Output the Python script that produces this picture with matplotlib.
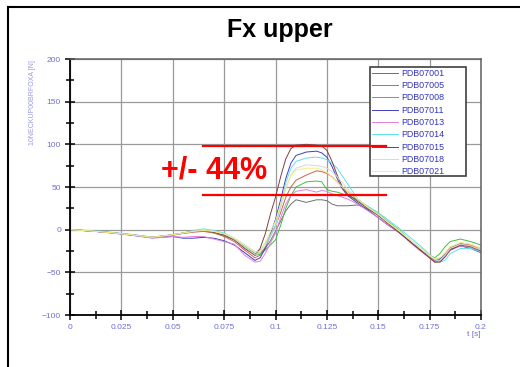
import matplotlib.pyplot as plt
from matplotlib.lines import Line2D
from matplotlib.patches import Rectangle
from matplotlib.ticker import MultipleLocator

plt.rcParams['font.family'] = ['Liberation Sans', 'DejaVu Sans']

# time axis [s]
t = [0, .01, .02, .03, .04, .05, .055, .06, .065, .07,
     .075, .08, .085, .09, .0925, .095, .0975, .1, .1025, .105,
     .1075, .11, .115, .12, .1225, .125, .1275, .13, .1325, .135,
     .14, .145, .15, .155, .16, .165, .17, .175, .1775, .18,
     .1825, .185, .19, .195, .2]

# force traces [N]
pdb07001 = [0, -1.5, -3.5, -6, -9, -6, -4, -2, -1, -3,
            -7, -12, -20, -28, -27, -22, -13, -2, 10, 22,
            30, 35, 32, 35, 35, 34, 30, 28, 28, 28,
            29, 24, 17, 7, -2, -13, -23, -31, -35, -34,
            -28, -21, -17, -19, -24]
pdb07005 = [0, -1.5, -3.5, -6, -9.5, -6.5, -4.5, -3, -2, -4,
            -8, -14, -24, -33, -30, -20, -8, 4, 20, 38,
            50, 58, 64, 69, 68, 66, 62, 56, 50, 45,
            35, 26, 17, 7, -3, -13, -23, -33, -38, -37,
            -31, -22, -16, -18, -22]
pdb07008 = [0, -1.5, -3.5, -6, -9, -6, -4, -2, -1, -3,
            -6, -11, -20, -30, -29, -24, -18, -12, 5, 25,
            40, 50, 56, 57, 56, 47, 45, 44, 42, 40,
            35, 27, 19, 9, 0, -11, -21, -30, -33, -28,
            -20, -14, -11, -14, -18]
pdb07011 = [0, -1.5, -3.5, -6.5, -9.5, -8, -10, -10, -9, -10,
            -13, -18, -27, -36, -33, -22, -5, 12, 35, 60,
            78, 87, 91, 92, 90, 85, 74, 60, 48, 40,
            31, 23, 14, 5, -3, -13, -23, -32, -36, -35,
            -30, -23, -19, -22, -27]
pdb07013 = [0, -1.5, -4, -6.5, -10, -8, -9, -8, -8, -11,
            -14, -17, -30, -38, -37, -28, -16, -4, 14, 30,
            40, 45, 47, 44, 46, 45, 42, 40, 38, 36,
            30, 22, 14, 5, -3, -14, -24, -33, -37, -36,
            -30, -24, -19, -21, -26]
pdb07014 = [0, -1, -3, -5.5, -8.5, -6, -4, -1, 1, -1,
            -4, -10, -18, -26, -24, -16, -6, 5, 28, 55,
            72, 80, 84, 85, 84, 82, 78, 72, 63, 54,
            36, 27, 20, 11, 2, -8, -18, -29, -35, -38,
            -36, -28, -22, -22, -26]
pdb07015 = [0, -1.5, -3.5, -6, -9, -6, -4, -2, -1, -3,
            -6, -12, -22, -30, -22, -5, 18, 38, 62, 83,
            95, 99, 100, 99, 98, 93, 80, 64, 50, 42,
            33, 25, 17, 7, -3, -13, -23, -33, -38, -38,
            -32, -24, -18, -20, -25]
pdb07018 = [0, -1.5, -3.5, -6, -9, -6, -4, -2, 0, -2,
            -5, -11, -20, -29, -27, -19, -8, 2, 25, 48,
            64, 72, 76, 75, 74, 72, 68, 62, 55, 48,
            36, 26, 18, 8, -1, -11, -21, -31, -35, -36,
            -30, -22, -17, -19, -24]
pdb07021 = [0, -1.5, -3.5, -6, -9, -6, -4, -2, -1, -2,
            -5, -10, -18, -26, -26, -15, -2, 10, 30, 50,
            63, 70, 72, 72, 70, 67, 62, 56, 50, 45,
            36, 26, 18, 8, -1, -11, -21, -30, -34, -33,
            -27, -20, -15, -17, -22]

names = ['PDB07001', 'PDB07005', 'PDB07008', 'PDB07011', 'PDB07013',
         'PDB07014', 'PDB07015', 'PDB07018', 'PDB07021']
series = [pdb07001, pdb07005, pdb07008, pdb07011, pdb07013,
          pdb07014, pdb07015, pdb07018, pdb07021]
colors = ['#707070', '#d06050', '#40c040', '#4040c0', '#e080e0',
          '#60e0f0', '#804040', '#d8d8d8', '#f0f080']

# scatter band
band_hi, band_lo = 98, 40.5
band_t = [0.0647, 0.1538]

fig = plt.figure(figsize=(5.2, 3.67), dpi=100)
ax = fig.add_axes([70/520, 1-315/367, 411/520, 256/367])

for vals, name, c in zip(series, names, colors):
    ax.plot(t, vals, color=c, lw=0.7, label=name)

ax.plot(band_t, [band_hi, band_hi], color='red', lw=1.6, zorder=7)
ax.plot(band_t, [band_lo, band_lo], color='red', lw=1.6, zorder=7)
ax.text(0.0703, 69, '+/- 44%', color='red', fontsize=22, fontweight='bold',
        ha='center', va='center')

ax.set_xlim(0, 0.2)
ax.set_ylim(-100, 200)
ax.set_xticks([0, .025, .05, .075, .1, .125, .15, .175, .2])
ax.set_xticklabels(['0', '0.025', '0.05', '0.075', '0.1', '0.125', '0.15', '0.175', '0.2'])
ax.xaxis.set_minor_locator(MultipleLocator(0.0125))
ax.yaxis.set_major_locator(MultipleLocator(50))
ax.yaxis.set_minor_locator(MultipleLocator(25))
ax.grid(True, which='major', color='#9a9a9a', lw=0.9)
ax.set_axisbelow(True)
ax.tick_params(which='both', direction='inout', color='black', width=1.1,
               labelsize=6, labelcolor='#7070d0')
ax.tick_params(which='major', length=7, pad=3)
ax.tick_params(which='minor', length=6)
for s in ['left', 'bottom']:
    ax.spines[s].set_linewidth(1.3)
for s in ['top', 'right']:
    ax.spines[s].set_color('#606060')
    ax.spines[s].set_linewidth(1.1)

# legend frame is drawn separately so it can be wider than the entries
ax.add_patch(Rectangle((370/520, 1-176/367), 96/520, 109/367,
                       transform=fig.transFigure, facecolor='white',
                       edgecolor='#404040', lw=1.2, zorder=5, clip_on=False))
leg = ax.legend(loc='upper left', bbox_to_anchor=(371/520, 1-68/367),
                bbox_transform=fig.transFigure, borderaxespad=0,
                fontsize=6.4, labelcolor='#3333bb', handlelength=2.9,
                handletextpad=0.45, labelspacing=0.37, frameon=False,
                borderpad=0.1)
leg.set_zorder(6)

fig.text(280/520, 1-30/367, 'Fx upper', fontsize=18, fontweight='bold',
         ha='center', va='center')
fig.text(32/520, 1-103/367, '10NECKUP00BRFOXA [N]', rotation=90, fontsize=5,
         color='#9a9ae0', ha='center', va='center')
fig.text(474/520, 1-335/367, 't [s]', fontsize=6, color='#7070d0',
         ha='center', va='center')

# outer slide frame
fig.add_artist(Line2D([8/520, 1], [1-7/367, 1-7/367], color='black', lw=1.5))
fig.add_artist(Line2D([8/520, 8/520], [0, 1-7/367], color='black', lw=1.5))

fig.savefig('out.png', dpi=100)
